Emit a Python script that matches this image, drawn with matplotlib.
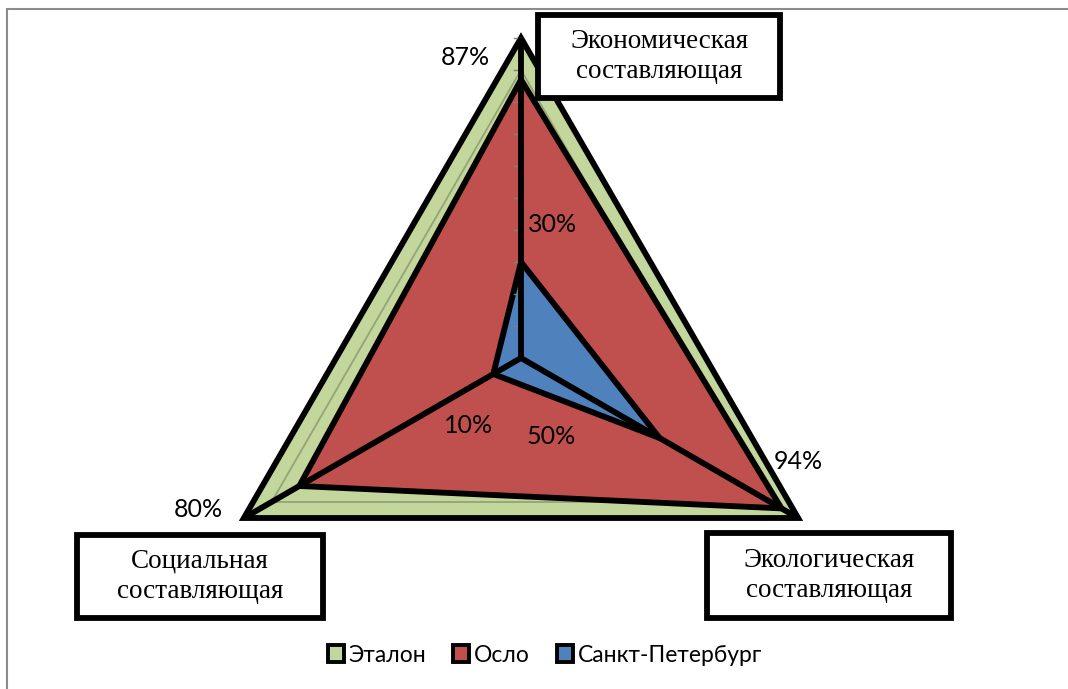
import numpy as np
import matplotlib.pyplot as plt
from matplotlib.patches import Rectangle, Patch

# Данные (оси радарной диаграммы и значения рядов)
axes_names = ['Экономическая\nсоставляющая', 'Экологическая\nсоставляющая', 'Социальная\nсоставляющая']
angles_deg = [90, -30, 210]
etalon = [1.0, 1.0, 1.0]
oslo = [0.87, 0.94, 0.80]
spb = [0.30, 0.50, 0.10]
series_names = ['Эталон', 'Осло', 'Санкт-Петербург']
colors = ['#C3D69B', '#C0504D', '#4F81BD']
grid_levels = np.arange(0.1, 1.0, 0.1)

W, H = 1068, 689
cx, cy, scale = 521, 358, 320

sans = ['Lato', 'DejaVu Sans']
serif = ['Liberation Serif', 'DejaVu Serif']


def to_xy(vals):
    ang = np.radians(angles_deg)
    v = np.asarray(vals, dtype=float)
    return v * np.cos(ang), v * np.sin(ang)


def fig_xy(px, py):
    return px / W, 1 - py / H


fig = plt.figure(figsize=(W / 100, H / 100), dpi=100)
ax = fig.add_axes([0, 0, 1, 1])
ax.set_xlim(-cx / scale, (W - cx) / scale)
ax.set_ylim(-(H - cy) / scale, cy / scale)
ax.axis('off')

lw = 4.2

# Эталон
x, y = to_xy(etalon)
ax.fill(x, y, facecolor=colors[0], edgecolor='black', lw=lw, joinstyle='miter', zorder=1)

# Сетка
for lv in grid_levels:
    gx, gy = to_xy([lv] * 3)
    ax.fill(gx, gy, fill=False, edgecolor='#93a477', lw=1.3, zorder=2)

# Осло и Санкт-Петербург
x, y = to_xy(oslo)
ax.fill(x, y, facecolor=colors[1], edgecolor='black', lw=lw, joinstyle='miter', zorder=3)
x, y = to_xy(spb)
ax.fill(x, y, facecolor=colors[2], edgecolor='black', lw=lw, joinstyle='miter', zorder=4)

# Оси (лучи)
sx, sy = to_xy(etalon)
for i in range(3):
    ax.plot([0, sx[i]], [0, sy[i]], color='black', lw=lw, solid_capstyle='butt', zorder=5)

# Деления на вертикальной оси
for lv in np.arange(0.1, 1.01, 0.1):
    ax.plot([-0.022, 0], [lv, lv], color='#808080', lw=1, zorder=4.5)

# Подписи данных
oslo_offsets = [(-40, 16), (12, 34), (-73, -17)]
spb_offsets = [(23, 27), (-78, 1), (-18, -37)]
for vals, offs in [(oslo, oslo_offsets), (spb, spb_offsets)]:
    px, py = to_xy(vals)
    for v, xx, yy, off in zip(vals, px, py, offs):
        ax.annotate(f'{int(round(v * 100))}%', (xx, yy), xytext=off, textcoords='offset points',
                    ha='center', va='center', fontsize=18, family=sans, zorder=6)

# Рамки с названиями осей
boxes = [(538, 15, 780, 98), (707, 533, 951, 618), (77, 535, 323, 618)]
for name, (x0, y0, x1, y1) in zip(axes_names, boxes):
    fx0, fy1 = fig_xy(x0, y1)
    fx1, fy0 = fig_xy(x1, y0)
    fig.patches.append(Rectangle((fx0, fy1), fx1 - fx0, fy0 - fy1, transform=fig.transFigure,
                                 facecolor='white', edgecolor='black', lw=lw, joinstyle='miter', zorder=7))
    tx, ty = fig_xy((x0 + x1) / 2, (y0 + y1) / 2)
    fig.text(tx, ty, name, ha='center', va='center', fontsize=19.5, family=serif,
             linespacing=1.28, zorder=8)

# Внешняя рамка
fx, fy = fig_xy(7, 9)
fig.patches.append(Rectangle((fx, -0.1), 1.2, fy + 0.1, transform=fig.transFigure,
                             fill=False, edgecolor='#8c8c8c', lw=1.5))

# Легенда
handles = [Patch(facecolor=c, edgecolor='black', lw=2.8) for c in colors]
lx, ly = fig_xy(545, 655)
fig.legend(handles, series_names, loc='center', bbox_to_anchor=(lx, ly), ncol=3, frameon=False,
           prop={'family': sans, 'size': 16.5}, handlelength=0.7, handleheight=0.7,
           handletextpad=0.2, columnspacing=1.2)

fig.savefig('out.png', dpi=100)
